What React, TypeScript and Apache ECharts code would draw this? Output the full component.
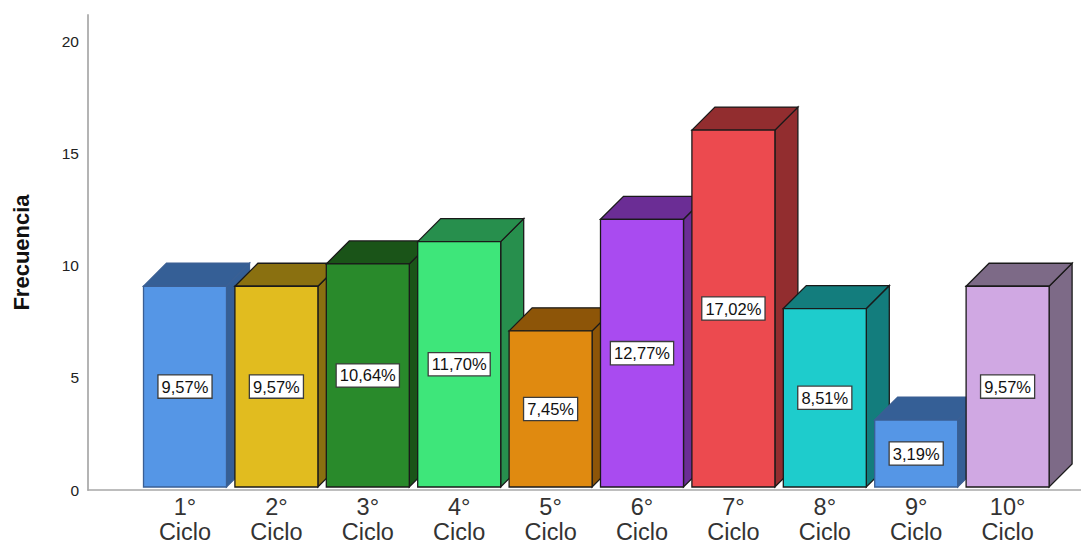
import React, { useEffect, useRef } from "react";
import * as echarts from "echarts";

// Frequency of students per cycle
const categories = ["1° Ciclo", "2° Ciclo", "3° Ciclo", "4° Ciclo", "5° Ciclo", "6° Ciclo", "7° Ciclo", "8° Ciclo", "9° Ciclo", "10° Ciclo"];
const frequencies = [9, 9, 10, 11, 7, 12, 16, 8, 3, 9];
const yTicks = [0, 5, 10, 15, 20];

// Face colours for each bar: front face, and the darker top/side faces
const frontColors = ["#5596E6", "#E1BC1F", "#298A2B", "#3EE67A", "#E08A10", "#A94BF0", "#EC4A4F", "#1ECCCC", "#5596E6", "#D0A8E3"];
const sideColors = ["#355F96", "#8A7010", "#1A5418", "#278F4D", "#8D5508", "#6B2D95", "#922D2F", "#137D7D", "#355F96", "#7D6A87"];
const edgeColors = ["#3A5F94", "#1a1a1a", "#1a1a1a", "#1a1a1a", "#1a1a1a", "#1a1a1a", "#1a1a1a", "#1a1a1a", "#3A5F94", "#1a1a1a"];

const FONT = "'Liberation Sans', Arial, sans-serif";
const DEPTH = 23;
const total = frequencies.reduce((a, b) => a + b, 0);
const pct = (v: number) => ((v / total) * 100).toFixed(2).replace(".", ",") + "%";

export default function App() {
  const ref = useRef<HTMLDivElement>(null);

  useEffect(() => {
    if (!ref.current) return;
    const chart = echarts.init(ref.current, undefined, { renderer: "svg" });

    const renderItem = (params: any, api: any) => {
      const i = params.dataIndex;
      const v = api.value(1);
      const base = api.coord([api.value(0), 0]);
      const top = api.coord([api.value(0), v]);
      const w = api.size([1, 0])[0] * 0.908;
      const x0 = base[0] - w / 2;
      const x1 = base[0] + w / 2;
      const yb = base[1];
      const yt = top[1];
      const d = DEPTH;
      const stroke = edgeColors[i];
      return {
        type: "group",
        children: [
          {
            type: "polygon",
            shape: { points: [[x1, yb], [x1, yt], [x1 + d, yt - d], [x1 + d, yb - d]] },
            style: { fill: sideColors[i], stroke, lineWidth: 1.3 },
          },
          {
            type: "polygon",
            shape: { points: [[x0, yt], [x0 + d, yt - d], [x1 + d, yt - d], [x1, yt]] },
            style: { fill: sideColors[i], stroke, lineWidth: 1.3 },
          },
          {
            type: "rect",
            shape: { x: x0, y: yt, width: w, height: yb - yt },
            style: { fill: frontColors[i], stroke, lineWidth: 1.3 },
          },
          {
            type: "text",
            x: base[0],
            y: (yb + yt) / 2,
            style: {
              text: pct(v),
              fill: "#111",
              font: `16.5px ${FONT}`,
              align: "center",
              verticalAlign: "middle",
              backgroundColor: "#ffffff",
              borderColor: "#3c3c3c",
              borderWidth: 1.3,
              padding: [3, 3, 2, 3],
            },
          },
        ],
      };
    };

    chart.setOption({
      animation: false,
      backgroundColor: "#ffffff",
      grid: [
        { left: 88, right: 0, top: 15, bottom: 54 },
        { left: 139.3, width: 914, top: 15, bottom: 54 },
      ],
      xAxis: [
        {
          gridIndex: 0,
          type: "value",
          min: 0,
          max: 1,
          axisLine: { show: true, lineStyle: { color: "#a8a8a8", width: 1.5 } },
          axisTick: { show: false },
          axisLabel: { show: false },
          splitLine: { show: false },
        },
        {
          gridIndex: 1,
          type: "category",
          data: categories,
          axisLine: { show: false },
          axisTick: { show: false },
          axisLabel: {
            formatter: (s: string) => s.replace(" ", "\n"),
            fontFamily: FONT,
            fontSize: 23.5,
            lineHeight: 25,
            color: "#333",
            margin: 7,
            interval: 0,
          },
        },
      ],
      yAxis: [
        {
          gridIndex: 0,
          type: "value",
          min: 0,
          max: 21.16,
          interval: 5,
          name: "Frecuencia",
          nameLocation: "middle",
          nameGap: 56,
          nameTextStyle: { fontFamily: FONT, fontSize: 22, fontWeight: "bold", color: "#111" },
          axisLine: { show: true, lineStyle: { color: "#b4b4b4", width: 2 } },
          axisTick: { show: false },
          splitLine: { show: false },
          axisLabel: {
            formatter: (v: number) => (yTicks.includes(v) ? String(v) : ""),
            fontFamily: FONT,
            fontSize: 15.5,
            color: "#222",
            margin: 9,
          },
        },
        {
          gridIndex: 1,
          type: "value",
          min: 0,
          max: 21.16,
          show: false,
        },
      ],
      series: [
        {
          type: "custom",
          xAxisIndex: 1,
          yAxisIndex: 1,
          renderItem,
          data: frequencies.map((v, i) => [i, v]),
        },
      ],
    });

    return () => chart.dispose();
  }, []);

  return (
    <div
      ref={ref}
      style={{ position: "fixed", left: 0, top: 0, width: 1081, height: 544 }}
    />
  );
}
